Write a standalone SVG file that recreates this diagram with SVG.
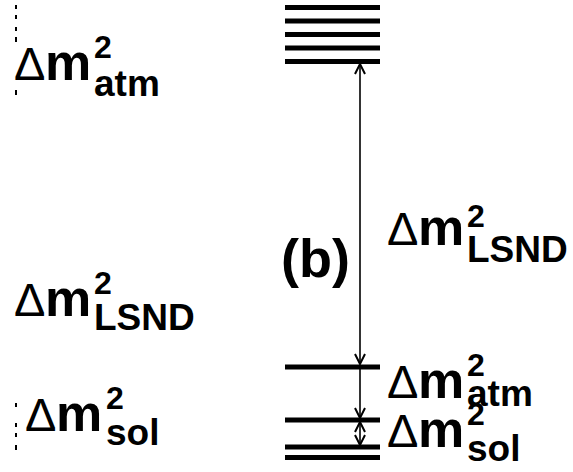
<svg xmlns="http://www.w3.org/2000/svg" width="573" height="472" viewBox="0 0 573 472">
<defs>
<style>
.lvl{stroke:#000;stroke-width:5;fill:none}
.arr{stroke:#000;stroke-width:1.6;fill:none}
.dash{stroke:#000;stroke-width:2;fill:none}
text{font-family:"Liberation Sans",Arial,sans-serif;fill:#000}
.d{font-size:47px;font-weight:normal}
.m{font-size:52px;font-weight:bold}
.sup{font-size:32px;font-weight:bold}
.sub{font-size:37px;font-weight:bold}
.b{font-size:54px;font-weight:bold}
</style>
<marker id="ah" viewBox="0 0 12 12" refX="11" refY="6" markerWidth="12" markerHeight="12" markerUnits="userSpaceOnUse" orient="auto-start-reverse">
<path d="M1,1 L11,6 L1,11" fill="none" stroke="#000" stroke-width="2"/>
</marker>
</defs>
<rect width="573" height="472" fill="#fff"/>
<g id="levels-top">
<line class="lvl" x1="285" y1="7.5" x2="380" y2="7.5"/>
<line class="lvl" x1="285" y1="21" x2="380" y2="21"/>
<line class="lvl" x1="285" y1="34.5" x2="380" y2="34.5"/>
<line class="lvl" x1="285" y1="48" x2="380" y2="48"/>
<line class="lvl" x1="285" y1="61.5" x2="380" y2="61.5"/>
</g>
<g id="levels-bottom">
<line class="lvl" x1="285" y1="367" x2="380" y2="367"/>
<line class="lvl" x1="285" y1="420" x2="380" y2="420"/>
<line class="lvl" x1="285" y1="447" x2="380" y2="447"/>
<line class="lvl" x1="285" y1="457.5" x2="380" y2="457.5"/>
</g>
<g id="connectors">
<line class="arr" x1="360" y1="64" x2="360" y2="364" marker-start="url(#ah)" marker-end="url(#ah)"/>
<line class="arr" x1="360" y1="369" x2="360" y2="418" marker-end="url(#ah)"/>
<line class="arr" x1="360" y1="422" x2="360" y2="445" marker-start="url(#ah)" marker-end="url(#ah)"/>
</g>
<g id="left-dashes">
<path class="dash" d="M16,5V9M16,15V19M16,27V31M16,37V42M16,90V95M16,403V407M16,423V427M16,433V437M16,445V450"/>
</g>
<g id="label-b"><text class="b" x="281" y="277">(b)</text></g>
<g id="left-atm">
<text class="d" x="14" y="80">Δ</text><text class="m" x="45" y="80">m</text>
<text class="sup" x="94" y="58">2</text><text class="sub" x="94" y="96">atm</text>
</g>
<g id="left-lsnd">
<text class="d" x="14" y="316">Δ</text><text class="m" x="45" y="316">m</text>
<text class="sup" x="94" y="294">2</text><text class="sub" x="94" y="330">LSND</text>
</g>
<g id="left-sol">
<text class="d" x="25" y="431">Δ</text><text class="m" x="56" y="431">m</text>
<text class="sup" x="106" y="409">2</text><text class="sub" x="106" y="445">sol</text>
</g>
<g id="right-lsnd">
<text class="d" x="387" y="245">Δ</text><text class="m" x="418" y="245">m</text>
<text class="sup" x="467" y="227">2</text><text class="sub" x="467" y="262">LSND</text>
</g>
<g id="right-atm">
<text class="d" x="387" y="398">Δ</text><text class="m" x="418" y="398">m</text>
<text class="sup" x="467" y="376">2</text><text class="sub" x="467" y="406">atm</text>
</g>
<g id="right-sol">
<text class="d" x="387" y="447">Δ</text><text class="m" x="418" y="447">m</text>
<text class="sup" x="467" y="425">2</text><text class="sub" x="467" y="461">sol</text>
</g>
</svg>
